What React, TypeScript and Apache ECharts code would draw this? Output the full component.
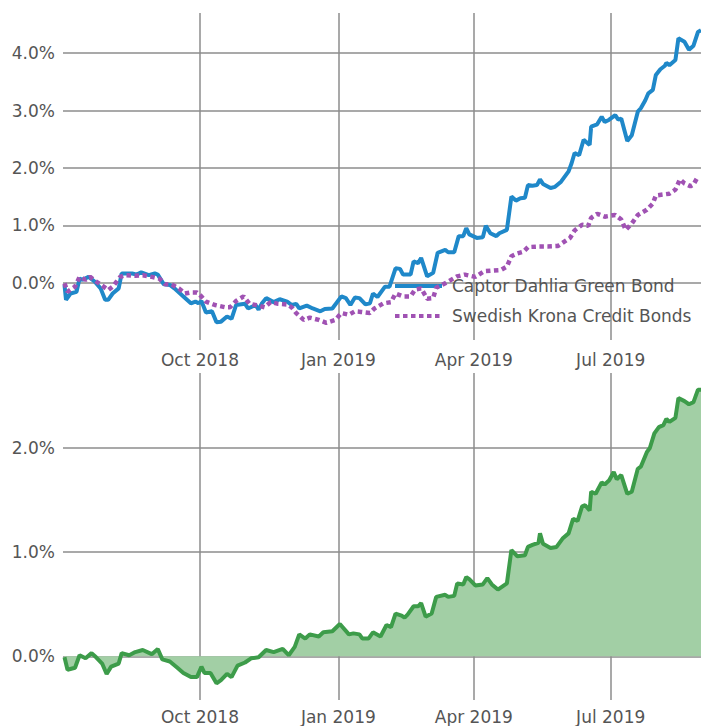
import React, { useEffect, useRef } from 'react';
import * as echarts from 'echarts';

// ---- axis ticks ----
const quarterTicks = ['2018-10-01', '2019-01-01', '2019-04-01', '2019-07-01'];
const monthNames = ['Jan', 'Feb', 'Mar', 'Apr', 'May', 'Jun', 'Jul', 'Aug', 'Sep', 'Oct', 'Nov', 'Dec'];
const topYTicks = [0, 1, 2, 3, 4];
const bottomYTicks = [0, 1, 2];
const xStart = '2018-07-02';
const xEnd = '2019-08-30';

// ---- Captor Dahlia Green Bond (cumulative return, %) ----
const greenBondDates = [
  '2018-07-03', '2018-07-04', '2018-07-07', '2018-07-11', '2018-07-13', '2018-07-15', '2018-07-19', '2018-07-23',
  '2018-07-27', '2018-07-30', '2018-08-01', '2018-08-04', '2018-08-08', '2018-08-10', '2018-08-17', '2018-08-20',
  '2018-08-23', '2018-08-28', '2018-09-01', '2018-09-03', '2018-09-07', '2018-09-11', '2018-09-14', '2018-09-20',
  '2018-09-25', '2018-09-28', '2018-09-30', '2018-10-02', '2018-10-05', '2018-10-09', '2018-10-12', '2018-10-15',
  '2018-10-19', '2018-10-22', '2018-10-25', '2018-10-31', '2018-11-02', '2018-11-07', '2018-11-09', '2018-11-11',
  '2018-11-14', '2018-11-19', '2018-11-23', '2018-11-28', '2018-12-01', '2018-12-04', '2018-12-06', '2018-12-11',
  '2018-12-15', '2018-12-20', '2018-12-23', '2018-12-28', '2019-01-03', '2019-01-06', '2019-01-09', '2019-01-12',
  '2019-01-15', '2019-01-19', '2019-01-22', '2019-01-24', '2019-01-27', '2019-02-01', '2019-02-04', '2019-02-08',
  '2019-02-11', '2019-02-13', '2019-02-18', '2019-02-20', '2019-02-23', '2019-02-25', '2019-03-01', '2019-03-05',
  '2019-03-08', '2019-03-13', '2019-03-15', '2019-03-19', '2019-03-22', '2019-03-25', '2019-03-27', '2019-03-29',
  '2019-04-03', '2019-04-07', '2019-04-09', '2019-04-12', '2019-04-16', '2019-04-18', '2019-04-23', '2019-04-26',
  '2019-04-29', '2019-05-02', '2019-05-05', '2019-05-07', '2019-05-10', '2019-05-13', '2019-05-15', '2019-05-17',
  '2019-05-22', '2019-05-25', '2019-05-29', '2019-06-03', '2019-06-05', '2019-06-07', '2019-06-10', '2019-06-13',
  '2019-06-17', '2019-06-18', '2019-06-22', '2019-06-25', '2019-06-27', '2019-06-30', '2019-07-04', '2019-07-06',
  '2019-07-08', '2019-07-12', '2019-07-15', '2019-07-19', '2019-07-21', '2019-07-24', '2019-07-26', '2019-07-29',
  '2019-07-31', '2019-08-03', '2019-08-06', '2019-08-07', '2019-08-09', '2019-08-13', '2019-08-15', '2019-08-19',
  '2019-08-22', '2019-08-25', '2019-08-28', '2019-08-30',
];
const greenBondValues = [
  -0.04, -0.30, -0.19, -0.16, 0.07, 0.05, 0.10, 0.02,
  -0.10, -0.30, -0.30, -0.19, -0.10, 0.16, 0.16, 0.14,
  0.18, 0.13, 0.16, 0.14, -0.03, -0.04, -0.10, -0.24,
  -0.36, -0.33, -0.36, -0.32, -0.52, -0.50, -0.69, -0.68,
  -0.59, -0.63, -0.39, -0.37, -0.45, -0.39, -0.47, -0.37,
  -0.27, -0.34, -0.29, -0.33, -0.39, -0.37, -0.45, -0.40,
  -0.45, -0.50, -0.46, -0.45, -0.24, -0.27, -0.39, -0.26,
  -0.27, -0.38, -0.36, -0.19, -0.25, -0.07, -0.07, 0.25,
  0.24, 0.14, 0.14, 0.37, 0.34, 0.43, 0.11, 0.17,
  0.52, 0.57, 0.53, 0.53, 0.81, 0.81, 0.95, 0.84,
  0.78, 0.79, 0.99, 0.86, 0.81, 0.86, 0.92, 1.50,
  1.43, 1.47, 1.48, 1.70, 1.69, 1.70, 1.80, 1.72,
  1.65, 1.67, 1.76, 1.94, 2.08, 2.26, 2.22, 2.49,
  2.40, 2.72, 2.76, 2.89, 2.80, 2.84, 2.92, 2.84,
  2.86, 2.47, 2.57, 2.98, 3.04, 3.18, 3.30, 3.36,
  3.62, 3.72, 3.78, 3.83, 3.79, 3.88, 4.26, 4.20,
  4.06, 4.13, 4.37, 4.40,
];

// ---- Swedish Krona Credit Bonds (cumulative return, %) ----
const creditDates = [
  '2018-07-03', '2018-07-05', '2018-07-10', '2018-07-13', '2018-07-17', '2018-07-20', '2018-07-24', '2018-07-29',
  '2018-08-01', '2018-08-04', '2018-08-09', '2018-08-12', '2018-08-19', '2018-08-24', '2018-08-30', '2018-09-04',
  '2018-09-08', '2018-09-12', '2018-09-17', '2018-09-21', '2018-09-25', '2018-09-29', '2018-10-02', '2018-10-05',
  '2018-10-11', '2018-10-18', '2018-10-21', '2018-10-25', '2018-10-30', '2018-11-03', '2018-11-09', '2018-11-13',
  '2018-11-17', '2018-11-22', '2018-11-28', '2018-12-01', '2018-12-04', '2018-12-09', '2018-12-13', '2018-12-19',
  '2018-12-24', '2018-12-30', '2019-01-03', '2019-01-08', '2019-01-12', '2019-01-16', '2019-01-22', '2019-01-25',
  '2019-01-31', '2019-02-05', '2019-02-08', '2019-02-13', '2019-02-18', '2019-02-21', '2019-02-25', '2019-03-01',
  '2019-03-05', '2019-03-07', '2019-03-13', '2019-03-21', '2019-03-26', '2019-04-02', '2019-04-08', '2019-04-13',
  '2019-04-19', '2019-04-23', '2019-04-26', '2019-04-30', '2019-05-04', '2019-05-07', '2019-05-14', '2019-05-20',
  '2019-05-27', '2019-06-04', '2019-06-07', '2019-06-12', '2019-06-16', '2019-06-18', '2019-06-22', '2019-06-27',
  '2019-07-04', '2019-07-08', '2019-07-11', '2019-07-15', '2019-07-19', '2019-07-25', '2019-07-29', '2019-07-31',
  '2019-08-06', '2019-08-09', '2019-08-13', '2019-08-16', '2019-08-19', '2019-08-23', '2019-08-25', '2019-08-28',
];
const creditValues = [
  -0.01, -0.16, -0.07, 0.10, 0.05, 0.10, 0.02, -0.07,
  -0.13, -0.07, 0.10, 0.13, 0.12, 0.13, 0.10, 0.07,
  -0.03, -0.03, -0.10, -0.19, -0.17, -0.17, -0.24, -0.33,
  -0.39, -0.43, -0.43, -0.32, -0.24, -0.37, -0.40, -0.43,
  -0.34, -0.37, -0.38, -0.43, -0.53, -0.65, -0.61, -0.65,
  -0.70, -0.65, -0.53, -0.56, -0.50, -0.51, -0.53, -0.45,
  -0.36, -0.34, -0.19, -0.24, -0.24, -0.12, -0.10, -0.28,
  -0.27, -0.09, -0.01, 0.11, 0.14, 0.10, 0.20, 0.21,
  0.22, 0.28, 0.46, 0.51, 0.54, 0.62, 0.63, 0.63,
  0.64, 0.78, 0.91, 1.01, 0.99, 1.13, 1.20, 1.15,
  1.18, 1.10, 0.92, 1.03, 1.18, 1.27, 1.38, 1.52,
  1.54, 1.55, 1.62, 1.80, 1.73, 1.68, 1.71, 1.85,
];

// ---- Excess return (%) ----
const excessDates = [
  '2018-07-03', '2018-07-05', '2018-07-10', '2018-07-13', '2018-07-17', '2018-07-21', '2018-07-24', '2018-07-28',
  '2018-07-31', '2018-08-03', '2018-08-08', '2018-08-10', '2018-08-15', '2018-08-19', '2018-08-24', '2018-08-30',
  '2018-09-03', '2018-09-06', '2018-09-11', '2018-09-16', '2018-09-20', '2018-09-25', '2018-09-29', '2018-10-02',
  '2018-10-04', '2018-10-08', '2018-10-12', '2018-10-15', '2018-10-19', '2018-10-22', '2018-10-26', '2018-10-31',
  '2018-11-04', '2018-11-09', '2018-11-14', '2018-11-19', '2018-11-25', '2018-11-29', '2018-12-03', '2018-12-06',
  '2018-12-10', '2018-12-13', '2018-12-19', '2018-12-22', '2018-12-28', '2019-01-02', '2019-01-08', '2019-01-11',
  '2019-01-15', '2019-01-17', '2019-01-21', '2019-01-24', '2019-01-29', '2019-02-02', '2019-02-05', '2019-02-08',
  '2019-02-12', '2019-02-14', '2019-02-16', '2019-02-20', '2019-02-23', '2019-02-25', '2019-02-28', '2019-03-04',
  '2019-03-07', '2019-03-13', '2019-03-15', '2019-03-19', '2019-03-21', '2019-03-25', '2019-03-27', '2019-03-29',
  '2019-04-02', '2019-04-07', '2019-04-10', '2019-04-13', '2019-04-17', '2019-04-23', '2019-04-26', '2019-04-30',
  '2019-05-05', '2019-05-07', '2019-05-10', '2019-05-14', '2019-05-15', '2019-05-17', '2019-05-22', '2019-05-26',
  '2019-05-30', '2019-06-03', '2019-06-06', '2019-06-09', '2019-06-12', '2019-06-14', '2019-06-17', '2019-06-18',
  '2019-06-21', '2019-06-25', '2019-06-27', '2019-06-30', '2019-07-03', '2019-07-05', '2019-07-08', '2019-07-12',
  '2019-07-15', '2019-07-19', '2019-07-21', '2019-07-25', '2019-07-27', '2019-07-30', '2019-08-02', '2019-08-05',
  '2019-08-07', '2019-08-09', '2019-08-13', '2019-08-15', '2019-08-19', '2019-08-22', '2019-08-25', '2019-08-28',
  '2019-08-30',
];
const excessValues = [
  -0.01, -0.13, -0.11, 0.01, -0.02, 0.03, -0.01, -0.07,
  -0.17, -0.10, -0.07, 0.03, 0.01, 0.04, 0.06, 0.02,
  0.07, -0.03, -0.05, -0.11, -0.16, -0.20, -0.20, -0.10,
  -0.16, -0.16, -0.26, -0.23, -0.17, -0.20, -0.09, -0.06,
  -0.02, -0.01, 0.06, 0.04, 0.07, 0.01, 0.09, 0.21,
  0.17, 0.21, 0.19, 0.23, 0.24, 0.31, 0.21, 0.22,
  0.21, 0.17, 0.17, 0.23, 0.19, 0.30, 0.28, 0.41,
  0.39, 0.37, 0.40, 0.48, 0.48, 0.51, 0.38, 0.41,
  0.57, 0.59, 0.57, 0.58, 0.70, 0.69, 0.76, 0.74,
  0.68, 0.69, 0.75, 0.69, 0.64, 0.70, 1.02, 0.96,
  0.97, 1.05, 1.07, 1.09, 1.18, 1.08, 1.04, 1.05,
  1.13, 1.18, 1.32, 1.30, 1.44, 1.45, 1.40, 1.58,
  1.56, 1.67, 1.65, 1.69, 1.77, 1.70, 1.74, 1.56,
  1.58, 1.80, 1.82, 1.96, 2.00, 2.14, 2.20, 2.22,
  2.28, 2.25, 2.29, 2.48, 2.45, 2.42, 2.44, 2.56,
  2.56,
];

const FONT = 'DejaVu Sans';
const TEXT_COLOR = '#555555';
const GRID_COLOR = '#8c8c8c';

function localTs(s: string): number {
  const [y, m, d] = s.split('-').map(Number);
  return new Date(y, m - 1, d).getTime();
}

function pairs(dates: string[], values: number[]) {
  return dates.map((d, i) => [localTs(d), values[i]]);
}

function xAxisFor(gridIndex: number, labelMargin: number) {
  const ticks = quarterTicks.map(localTs);
  return {
    type: 'value',
    gridIndex,
    min: localTs(xStart),
    max: localTs(xEnd),
    axisLine: { show: false },
    axisTick: { show: false, customValues: ticks },
    axisLabel: {
      customValues: ticks,
      margin: labelMargin,
      color: TEXT_COLOR,
      fontFamily: FONT,
      fontSize: 17,
      formatter: (v: number) => {
        const d = new Date(v);
        return monthNames[d.getMonth()] + ' ' + d.getFullYear();
      },
    },
    splitLine: { show: true, lineStyle: { color: GRID_COLOR, width: 1.5 } },
  };
}

function yAxisFor(gridIndex: number, min: number, max: number, ticks: number[]) {
  return {
    type: 'value',
    gridIndex,
    min,
    max,
    axisLine: { show: false },
    axisTick: { show: false, customValues: ticks },
    axisLabel: {
      customValues: ticks,
      margin: 8,
      color: TEXT_COLOR,
      fontFamily: FONT,
      fontSize: 17,
      formatter: (v: number) => v.toFixed(1) + '%',
    },
    splitLine: { show: true, lineStyle: { color: GRID_COLOR, width: 1.7 } },
  };
}

export default function App() {
  const ref = useRef<HTMLDivElement>(null);

  useEffect(() => {
    if (!ref.current) return;
    const chart = echarts.init(ref.current, undefined, { renderer: 'svg' });
    const blue = '#1f88c9';
    const purple = '#a052b3';
    const green = '#3d9c4a';
    chart.setOption({
      animation: false,
      backgroundColor: '#ffffff',
      textStyle: { fontFamily: FONT },
      grid: [
        { left: 63, right: 0, top: 13, height: 327, outerBoundsMode: 'none' },
        { left: 63, right: 0, top: 373, height: 327, outerBoundsMode: 'none' },
      ],
      xAxis: [xAxisFor(0, 11), xAxisFor(1, 8)],
      yAxis: [
        yAxisFor(0, -1.0, 4.7, topYTicks),
        yAxisFor(1, -0.42, 2.72, bottomYTicks),
      ],
      legend: {
        data: ['Captor Dahlia Green Bond', 'Swedish Krona Credit Bonds'],
        orient: 'vertical',
        left: 393,
        top: 276,
        padding: 0,
        itemWidth: 47,
        itemHeight: 20,
        itemGap: 10,
        selectedMode: false,
        itemStyle: { opacity: 0 },
        lineStyle: { width: 4 },
        textStyle: {
          color: TEXT_COLOR,
          fontFamily: FONT,
          fontSize: 17,
          lineHeight: 20,
          padding: [0, 0, 0, 5],
        },
      },
      series: [
        {
          name: 'Captor Dahlia Green Bond',
          type: 'line',
          xAxisIndex: 0,
          yAxisIndex: 0,
          symbol: 'none',
          z: 3,
          lineStyle: { color: blue, width: 4 },
          itemStyle: { color: blue },
          data: pairs(greenBondDates, greenBondValues),
        },
        {
          name: 'Swedish Krona Credit Bonds',
          type: 'line',
          xAxisIndex: 0,
          yAxisIndex: 0,
          symbol: 'none',
          z: 4,
          lineStyle: { color: purple, width: 4.5, type: [4.5, 3.5] },
          itemStyle: { color: purple },
          data: pairs(creditDates, creditValues),
        },
        {
          name: 'Excess return',
          type: 'line',
          xAxisIndex: 1,
          yAxisIndex: 1,
          symbol: 'none',
          z: 3,
          lineStyle: { color: green, width: 4 },
          itemStyle: { color: green },
          areaStyle: { color: '#a2cfa5', opacity: 1 },
          data: pairs(excessDates, excessValues),
        },
      ],
    });
    return () => chart.dispose();
  }, []);

  return (
    <div
      ref={ref}
      style={{ position: 'fixed', left: 0, top: 0, width: 701, height: 726 }}
    />
  );
}
